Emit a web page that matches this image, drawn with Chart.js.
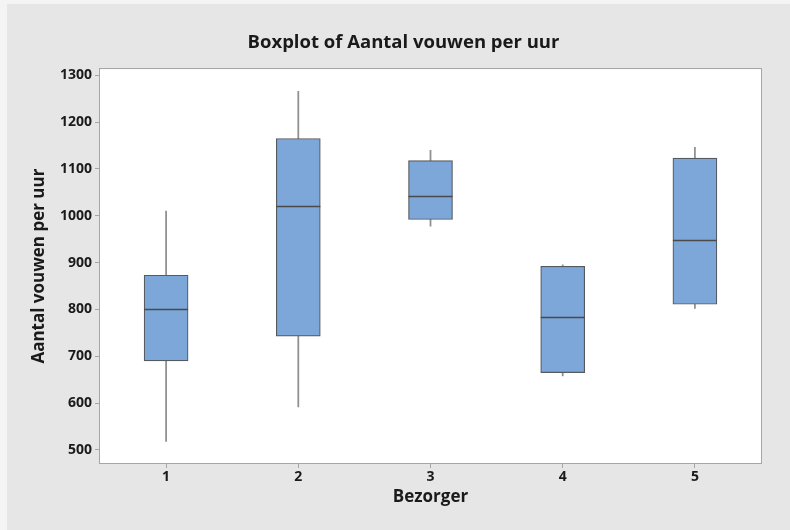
<!DOCTYPE html>
<html>
<head>
<meta charset="utf-8">
<script src="https://cdn.jsdelivr.net/npm/chart.js@4"></script>
<style>
  html, body { margin: 0; padding: 0; background: #f4f4f4; }
  #wrap { width: 790px; height: 530px; }
</style>
</head>
<body>
<div id="wrap"><canvas id="boxChart" width="790" height="530"></canvas></div>
<script>
// Data (Aantal vouwen per uur per bezorger)
const bezorgers = ['1', '2', '3', '4', '5'];
const minValues = [518, 592, 978, 658, 802];
const q1Values = [690, 743, 992, 665, 811];
const medianValues = [800, 1020, 1043, 784, 948];
const q3Values = [873, 1165, 1118, 892, 1123];
const maxValues = [1010, 1266, 1140, 895, 1146];
const yTicks = [500, 600, 700, 800, 900, 1000, 1100, 1200, 1300];

const fontFamily = "'Open Sans', 'Noto Sans', sans-serif";

// Background, white plot area and frame
const backgroundPlugin = {
    id: 'backgroundPlugin',
    beforeDraw(chart) {
        const ctx = chart.ctx;
        const area = chart.chartArea;
        ctx.save();
        ctx.fillStyle = '#f4f4f4';
        ctx.fillRect(0, 0, chart.width, chart.height);
        ctx.fillStyle = '#e6e6e6';
        ctx.fillRect(7, 4, chart.width - 7, chart.height - 4);
        ctx.fillStyle = '#ffffff';
        ctx.fillRect(area.left, area.top, area.right - area.left, area.bottom - area.top);
        ctx.restore();
    },
    afterDraw(chart) {
        const ctx = chart.ctx;
        const area = chart.chartArea;
        ctx.save();
        ctx.strokeStyle = '#a6a6a6';
        ctx.lineWidth = 1;
        ctx.strokeRect(Math.round(area.left) - 0.5, Math.round(area.top) - 0.5,
            Math.round(area.right - area.left) + 1, Math.round(area.bottom - area.top) + 1);
        ctx.restore();
    }
};

// Median line across each box
const medianPlugin = {
    id: 'medianPlugin',
    afterDatasetsDraw(chart) {
        const ctx = chart.ctx;
        const meta = chart.getDatasetMeta(0);
        const yScale = chart.scales.y;
        ctx.save();
        ctx.strokeStyle = '#4a4a4a';
        ctx.lineWidth = 1.5;
        meta.data.forEach((bar, i) => {
            const y = Math.round(yScale.getPixelForValue(medianValues[i])) + 0.5;
            ctx.beginPath();
            ctx.moveTo(bar.x - bar.width / 2, y);
            ctx.lineTo(bar.x + bar.width / 2, y);
            ctx.stroke();
        });
        ctx.restore();
    }
};

new Chart(document.getElementById('boxChart'), {
    type: 'bar',
    data: {
        labels: bezorgers,
        datasets: [
            {
                label: 'Box',
                data: bezorgers.map((b, i) => [q1Values[i], q3Values[i]]),
                backgroundColor: '#7da7d9',
                borderColor: '#555a60',
                borderWidth: 1.2,
                borderSkipped: false,
                barThickness: 44
            },
            {
                label: 'Whisker',
                data: bezorgers.map((b, i) => [minValues[i], maxValues[i]]),
                backgroundColor: '#8f8f8f',
                borderWidth: 0,
                barThickness: 1.1
            }
        ]
    },
    plugins: [backgroundPlugin, medianPlugin],
    options: {
        responsive: false,
        animation: false,
        layout: {
            padding: { left: 46, right: 29, top: 0, bottom: 20 }
        },
        plugins: {
            legend: { display: false },
            tooltip: { enabled: false },
            title: {
                display: true,
                text: 'Boxplot of Aantal vouwen per uur',
                color: '#1a1a1a',
                font: { family: fontFamily, size: 18.5, weight: 'bold' },
                padding: { top: 32, bottom: 15 }
            }
        },
        scales: {
            x: {
                stacked: true,
                offset: true,
                border: { display: false },
                grid: {
                    display: true,
                    offset: false,
                    drawOnChartArea: false,
                    drawTicks: true,
                    tickLength: 5,
                    color: '#a6a6a6'
                },
                ticks: {
                    color: '#1a1a1a',
                    padding: 1,
                    font: { family: fontFamily, size: 14, weight: 'bold' }
                },
                title: {
                    display: true,
                    text: 'Bezorger',
                    color: '#1a1a1a',
                    font: { family: fontFamily, size: 17, weight: 'bold' },
                    padding: { top: 0, bottom: 3 }
                },
                afterFit(scale) { scale.height = 47; }
            },
            y: {
                stacked: false,
                min: 472,
                max: 1313,
                border: { display: false },
                grid: {
                    display: true,
                    drawOnChartArea: false,
                    drawTicks: true,
                    tickLength: 5,
                    color: '#a6a6a6'
                },
                ticks: {
                    color: '#1a1a1a',
                    padding: 3,
                    font: { family: fontFamily, size: 14, weight: 'bold' },
                    callback: value => String(value)
                },
                afterBuildTicks(scale) {
                    scale.ticks = yTicks.map(v => ({ value: v }));
                },
                title: {
                    display: true,
                    text: 'Aantal vouwen per uur',
                    color: '#1a1a1a',
                    font: { family: fontFamily, size: 17, weight: 'bold' },
                    padding: { top: -17, bottom: 0 }
                },
                afterFit(scale) { scale.width = 54; }
            }
        }
    }
});
</script>
</body>
</html>
